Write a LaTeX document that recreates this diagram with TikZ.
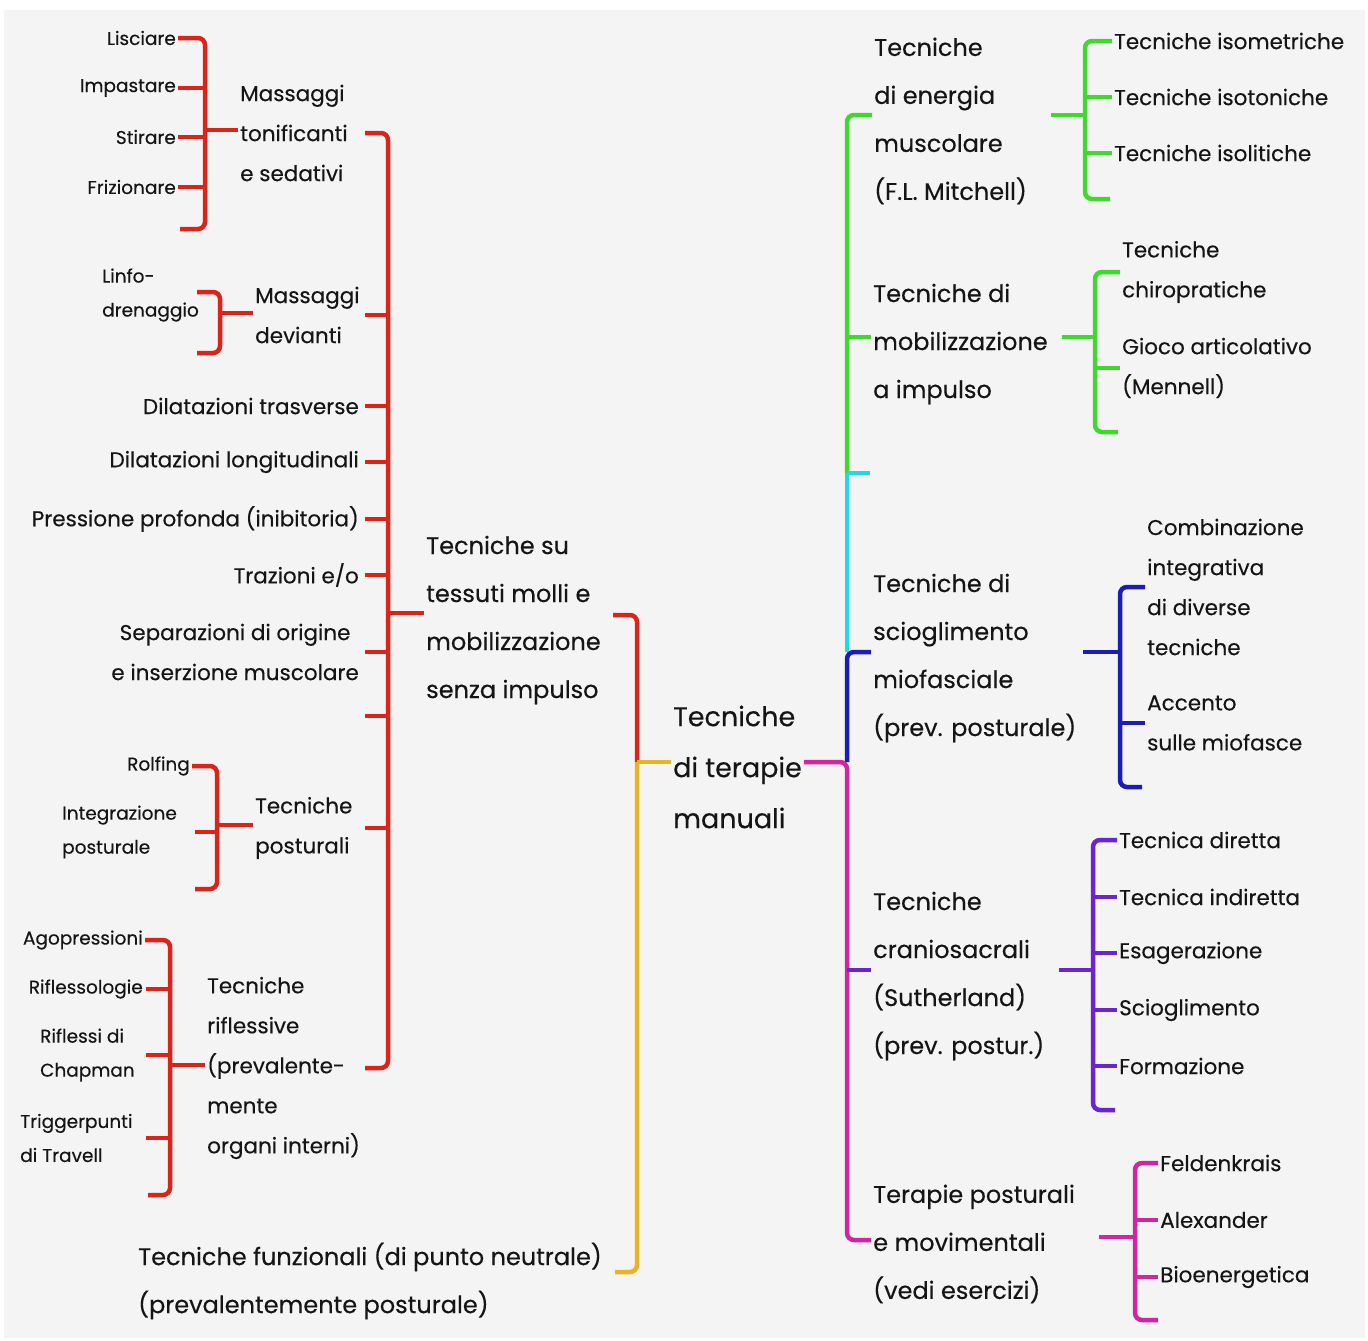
\documentclass[tikz,border=0pt]{standalone}
\usepackage{fontspec}
\setmainfont{Poppins}[FakeBold=0.3]
\usetikzlibrary{calc}
\definecolor{MapBack}{HTML}{F4F4F4}
\definecolor{MapInk}{HTML}{151515}
\definecolor{MapRed}{HTML}{DC2318}
\definecolor{MapGold}{HTML}{E8B424}
\definecolor{MapGreen}{HTML}{3FD82C}
\definecolor{MapCyan}{HTML}{22D8E2}
\definecolor{MapBlue}{HTML}{1C1CB6}
\definecolor{MapViolet}{HTML}{6A24D2}
\definecolor{MapPink}{HTML}{D2259E}
\tikzset{
mapline/.style={line width=4.5pt, rounded corners=7pt},
maptext/.style={inner sep=2pt, text=MapInk, align=left},
mapmain/.style={maptext, font=\fontsize{24}{48}\selectfont},
maproot/.style={maptext, font=\fontsize{27}{51}\selectfont},
mapmid/.style={maptext, font=\fontsize{21.5}{40}\selectfont},
mapleaf/.style={maptext, font=\fontsize{21.5}{40}\selectfont},
mapsmall/.style={maptext, font=\fontsize{18.5}{34}\selectfont}
}

\begin{document}
\begin{tikzpicture}[x=1pt, y=-1pt]
\useasboundingbox (0,0) rectangle (1368,1341);
\fill[MapBack] (4,10) rectangle (1365,1338);

% centre
\node[maproot, anchor=west] (root) at (671,767) {Tecniche\\di terapie\\manuali};
\node[mapmain, anchor=west] (tess) at (424,620) {Tecniche su\\tessuti molli e\\mobilizzazione\\senza impulso};
\node[mapmain, anchor=west] (func) at (136,1281) {Tecniche funzionali (di punto neutrale)\\(prevalentemente posturale)};

% left side
\node[mapmid, anchor=west] (tonif) at (238,133) {Massaggi\\tonificanti\\e sedativi};
\node[mapmid, anchor=west] (devi) at (253,315) {Massaggi\\devianti};
\node[mapleaf, anchor=east] (dtra) at (361,406) {Dilatazioni trasverse};
\node[mapleaf, anchor=east] (dlon) at (361,462) {Dilatazioni longitudinali};
\node[mapleaf, anchor=east] (pres) at (361,519) {Pressione profonda (inibitoria)};
\node[mapleaf, anchor=east] (traz) at (361,575) {Trazioni e/o};
\node[mapleaf, anchor=east, align=center] (sepa) at (361,652) {Separazioni di origine\\e inserzione muscolare};
\node[mapmid, anchor=west] (post) at (253,828) {Tecniche\\posturali};
\node[mapmid, anchor=west] (rifl) at (205,1068) {Tecniche\\riflessive\\(prevalente-\\mente\\organi interni)};

\node[mapsmall, anchor=east] (lisc) at (178,38) {Lisciare};
\node[mapsmall, anchor=east] (impa) at (178,88) {Impastare};
\node[mapsmall, anchor=east] (stir) at (178,137) {Stirare};
\node[mapsmall, anchor=east] (friz) at (178,187) {Frizionare};
\node[mapsmall, anchor=west] (linfo) at (100,295) {Linfo-\\drenaggio};
\node[mapsmall, anchor=east] (rolf) at (192,766) {Rolfing};
\node[mapsmall, anchor=west] (integ) at (60,832) {Integrazione\\posturale};
\node[mapsmall, anchor=east] (agop) at (145,940) {Agopressioni};
\node[mapsmall, anchor=east] (rfsl) at (145,989) {Riflessologie};
\node[mapsmall, anchor=west] (chap) at (38,1055) {Riflessi di\\Chapman};
\node[mapsmall, anchor=west] (trig) at (18,1138) {Triggerpunti\\di Travell};

% right side
\node[mapmain, anchor=west] (mitch) at (872,121) {Tecniche\\di energia\\muscolare\\(F.L. Mitchell)};
\node[mapmain, anchor=west] (mobi) at (871,344) {Tecniche di\\mobilizzazione\\a impulso};
\node[mapmain, anchor=west] (mio) at (871,658) {Tecniche di\\scioglimento\\miofasciale\\(prev. posturale)};
\node[mapmain, anchor=west] (cran) at (871,976) {Tecniche\\craniosacrali\\(Sutherland)\\(prev. postur.)};
\node[mapmain, anchor=west] (tpost) at (871,1244) {Terapie posturali\\e movimentali\\(vedi esercizi)};

\node[mapleaf, anchor=west] (isom) at (1112,41) {Tecniche isometriche};
\node[mapleaf, anchor=west] (isot) at (1112,97) {Tecniche isotoniche};
\node[mapleaf, anchor=west] (isol) at (1112,153) {Tecniche isolitiche};
\node[mapleaf, anchor=west] (chiro) at (1120,272) {Tecniche\\chiropratiche};
\node[mapleaf, anchor=west] (gioco) at (1120,368) {Gioco articolativo\\(Mennell)};
\node[mapleaf, anchor=west] (comb) at (1145,587) {Combinazione\\integrativa\\di diverse\\tecniche};
\node[mapleaf, anchor=west] (acc) at (1145,723) {Accento\\sulle miofasce};
\node[mapleaf, anchor=west] (dire) at (1117,840) {Tecnica diretta};
\node[mapleaf, anchor=west] (indi) at (1117,897) {Tecnica indiretta};
\node[mapleaf, anchor=west] (esag) at (1117,953) {Esagerazione};
\node[mapleaf, anchor=west] (scio) at (1117,1010) {Scioglimento};
\node[mapleaf, anchor=west] (form) at (1117,1066) {Formazione};
\node[mapleaf, anchor=west] (feld) at (1158,1163) {Feldenkrais};
\node[mapleaf, anchor=west] (alex) at (1158,1220) {Alexander};
\node[mapleaf, anchor=west] (bioe) at (1158,1277) {Bioenergetica};

% spine points and free ends
\coordinate (csp) at (637,762);
\coordinate (tend) at (613,615);
\coordinate (fend) at (615,1272);
\coordinate (lsp) at (388,613);
\coordinate (lgap) at (365,716);
\coordinate (rsp) at (847,762);
\coordinate (gA) at (847,115);
\coordinate (gB) at (847,337);
\coordinate (cy) at (847,473);
\coordinate (bl) at (847,652);
\coordinate (vi) at (847,970);
\coordinate (pk) at (847,1240);

\coordinate (tx) at (205,130);   \coordinate (txb) at (180,229);
\coordinate (dx) at (220,313);   \coordinate (dxa) at (197,292); \coordinate (dxb) at (197,353);
\coordinate (ox) at (217,825);   \coordinate (oxb) at (195,889);
\coordinate (rx) at (170,1065);  \coordinate (rxb) at (148,1195);
\coordinate (g1) at (1085,115);  \coordinate (g1b) at (1110,199);
\coordinate (g2) at (1095,337);  \coordinate (g2b) at (1118,432);
\coordinate (bx) at (1120,652);  \coordinate (bxb) at (1142,787);
\coordinate (vx) at (1093,970);  \coordinate (vxb) at (1115,1110);
\coordinate (px) at (1135,1237); \coordinate (pxb) at (1158,1320);

% centre brackets
\draw[mapline, MapRed] (tend) -| (csp);
\draw[mapline, MapGold] (csp) |- (fend);
\draw[mapline, MapGold] (csp) -- (csp -| root.west);

% left main bracket
\draw[mapline, MapRed] (lsp |- tonif.east) ++(-23,0) -- (lsp |- tonif.east) -- (lsp |- rifl.east) -- ++(-23,0);
\foreach \n in {devi,dtra,dlon,pres,traz,sepa,post}
\draw[mapline, MapRed] (lsp |- \n.east) -- ++(-23,0);
\draw[mapline, MapRed] (lsp |- lgap) -- (lgap);
\draw[mapline, MapRed] (lsp) -- (lsp -| tess.west);

% left sub brackets
\draw[mapline, MapRed] (lisc.east) -| (tx |- txb) -- (txb);
\foreach \n in {impa,stir,friz}
\draw[mapline, MapRed] (tx |- \n.east) -- (\n.east);
\draw[mapline, MapRed] (tx) -- (tx -| tonif.west);

\draw[mapline, MapRed] (dxa) -| (dx |- dxb) -- (dxb);
\draw[mapline, MapRed] (dx) -- (dx -| devi.west);

\draw[mapline, MapRed] (rolf.east) -| (ox |- oxb) -- (oxb);
\draw[mapline, MapRed] (ox |- integ.east) -- ++(-22,0);
\draw[mapline, MapRed] (ox) -- (ox -| post.west);

\draw[mapline, MapRed] (agop.east) -| (rx |- rxb) -- (rxb);
\foreach \n in {rfsl,chap,trig}
\draw[mapline, MapRed] (rx |- \n.east) -- ++(-24,0);
\draw[mapline, MapRed] (rx) -- (rx -| rifl.west);

% right main bracket
\draw[mapline, MapGreen] (gA -| mitch.west) -| (cy);
\draw[mapline, MapGreen] (gB) -- (gB -| mobi.west);
\draw[mapline, MapCyan] (cy) -- (bl);
\draw[mapline, MapCyan] (cy) -- ++(23,0);
\draw[mapline, MapBlue] (bl -| mio.west) -| (rsp);
\draw[mapline, MapPink] (rsp -| root.east) -- (rsp) |- (pk -| tpost.west);
\draw[mapline, MapViolet] (vi) -- (vi -| cran.west);

% right sub brackets
\draw[mapline, MapGreen, shorten <=22pt] (g1 -| mitch.east) -- (g1);
\draw[mapline, MapGreen] (isom.west) -| (g1 |- g1b) -- (g1b);
\foreach \n in {isot,isol}
\draw[mapline, MapGreen] (g1 |- \n.west) -- (\n.west);

\draw[mapline, MapGreen, shorten <=12pt] (g2 -| mobi.east) -- (g2);
\draw[mapline, MapGreen] (chiro.west) -| (g2 |- g2b) -- (g2b);
\draw[mapline, MapGreen] (g2 |- gioco.west) -- (gioco.west);

\draw[mapline, MapBlue, shorten <=5pt] (bx -| mio.east) -- (bx);
\draw[mapline, MapBlue] (comb.west) -| (bx |- bxb) -- (bxb);
\draw[mapline, MapBlue] (bx |- acc.west) -- (acc.west);

\draw[mapline, MapViolet, shorten <=12pt] (vx -| cran.east) -- (vx);
\draw[mapline, MapViolet] (dire.west) -| (vx |- vxb) -- (vxb);
\foreach \n in {indi,esag,scio,form}
\draw[mapline, MapViolet] (vx |- \n.west) -- (\n.west);

\draw[mapline, MapPink, shorten <=22pt] (px -| tpost.east) -- (px);
\draw[mapline, MapPink] (feld.west) -| (px |- pxb) -- (pxb);
\foreach \n in {alex,bioe}
\draw[mapline, MapPink] (px |- \n.west) -- (\n.west);
\end{tikzpicture}
\end{document}
